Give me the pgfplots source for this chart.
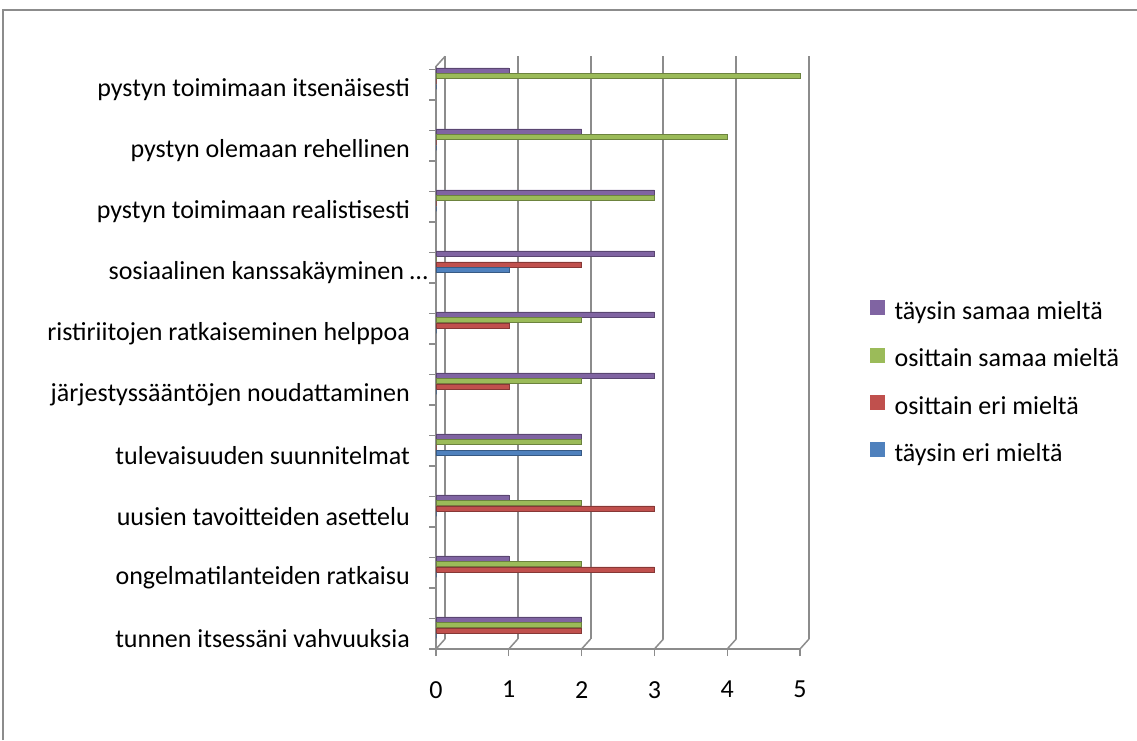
\documentclass[border=0pt]{standalone}
\usepackage{pgfplots}
\pgfplotsset{compat=1.18}
\usepackage{pgfplotstable}
\usepackage{fontspec}
\setmainfont{Carlito}
\definecolor{cpurple}{HTML}{8064A2}
\definecolor{cgreen}{HTML}{9BBB59}
\definecolor{cred}{HTML}{C0504D}
\definecolor{cblue}{HTML}{4F81BD}
\definecolor{gridgray}{HTML}{8C8C8C}

\pgfplotstableread{
y ts os oe te
0 2 2 2 0
1 1 2 3 0
2 1 2 3 0
3 2 2 0 2
4 3 2 1 0
5 3 2 1 0
6 3 0 2 1
7 3 3 0 0
8 2 4 0 0
9 1 5 0 0
}\data

\begin{document}
\begin{tikzpicture}[x=1pt,y=1pt]
\useasboundingbox (0,0) rectangle (1137,740);
\draw[gridgray, line width=1.5pt] (3,0) -- (3,730) -- (1137,730);
\begin{axis}[
  at={(436pt,91pt)}, anchor=south west,
  scale only axis, width=364pt, height=582.55pt,
  xmin=0, xmax=5, ymin=-0.35, ymax=9.2,
  clip=false,
  xbar, bar width=5pt,
  axis x line*=bottom, axis y line*=left,
  axis line style={draw=gridgray, line width=1.5pt},
  tick align=outside, major tick length=7pt,
  tick style={draw=gridgray, line width=1.2pt},
  /pgf/number format/assume math mode=true,
  tick label style={font=\fontsize{26}{30}\selectfont, inner sep=0pt},
  xtick={0,1,2,3,4,5},
  xticklabel style={yshift=-25pt},
  ytick={-0.35,0.15,...,9.2},
  yticklabels={,,,,,,,,,,,,,,,,,,,,},
  extra y ticks={0,1,2,3,4,5,6,7,8,9},
  extra y tick labels={tunnen itsessäni vahvuuksia, ongelmatilanteiden ratkaisu, uusien tavoitteiden asettelu, tulevaisuuden suunnitelmat, järjestyssääntöjen noudattaminen, ristiriitojen ratkaiseminen helppoa, {sosiaalinen kanssakäyminen …\hspace*{-18pt}}, pystyn toimimaan realistisesti, pystyn olemaan rehellinen, pystyn toimimaan itsenäisesti},
  extra y tick style={major tick length=0pt},
  yticklabel style={anchor=east, xshift=-26pt, yshift=-11pt},
  legend style={at={(axis description cs:1.192,0.599)}, anchor=north west,
    draw=none, fill=none, inner sep=0pt, row sep=21pt, column sep=10pt,
    font=\fontsize{26}{30}\selectfont,
    nodes={inner sep=0pt, text height=19pt, text depth=7pt, font=\fontsize{26}{30}\selectfont}},
  legend cell align=left,
]
\pgfplotsinvokeforeach{0,1,2,3,4,5}{
  \draw[gridgray, line width=2pt] ([shift={(9pt,10pt)}]axis cs:#1,-0.35) -- ([shift={(9pt,10pt)}]axis cs:#1,9.2);
  \draw[gridgray, line width=1.5pt] (axis cs:#1,-0.35) -- ([shift={(9pt,10pt)}]axis cs:#1,-0.35);
}
\draw[gridgray, line width=1.5pt] (axis cs:0,9.2) -- ([shift={(9pt,10pt)}]axis cs:0,9.2);
\addplot[fill=cpurple, draw=cpurple!70!black, line width=0.5pt, bar shift=8.25pt,
  legend image code/.code={\fill[cpurple] (0pt,-1pt) rectangle (14pt,13pt);}] table[x=ts, y=y] {\data};
\addlegendentry{täysin samaa mieltä}
\addplot[fill=cgreen, draw=cgreen!70!black, line width=0.5pt, bar shift=2.75pt,
  legend image code/.code={\fill[cgreen] (0pt,-1pt) rectangle (14pt,13pt);}] table[x=os, y=y] {\data};
\addlegendentry{osittain samaa mieltä}
\addplot[fill=cred, draw=cred!70!black, line width=0.5pt, bar shift=-2.75pt,
  legend image code/.code={\fill[cred] (0pt,-1pt) rectangle (14pt,13pt);}] table[x=oe, y=y] {\data};
\addlegendentry{osittain eri mieltä}
\addplot[fill=cblue, draw=cblue!70!black, line width=0.5pt, bar shift=-8.25pt,
  legend image code/.code={\fill[cblue] (0pt,-1pt) rectangle (14pt,13pt);}] table[x=te, y=y] {\data};
\addlegendentry{täysin eri mieltä}
\end{axis}
\end{tikzpicture}
\end{document}
